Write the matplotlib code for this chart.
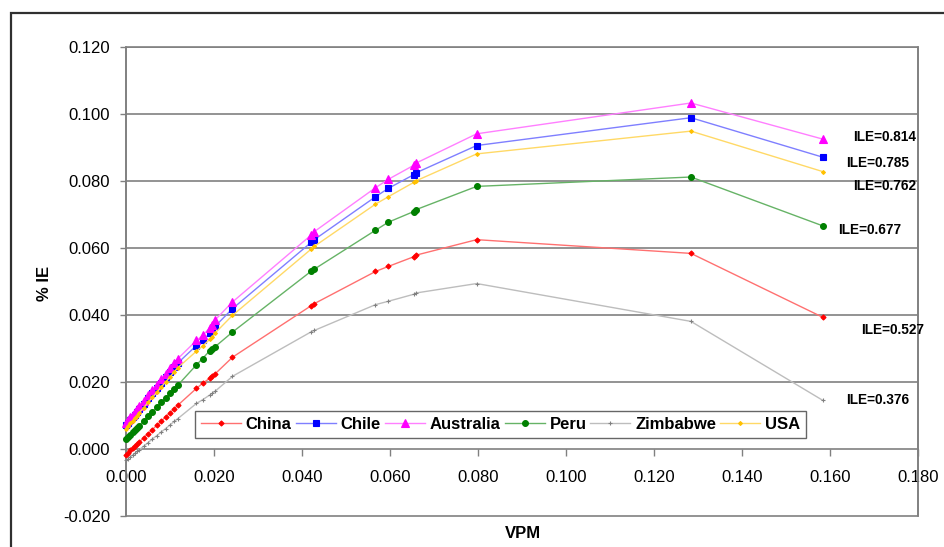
import matplotlib
matplotlib.use("Agg")
import matplotlib.pyplot as plt
from matplotlib.patches import Rectangle

plt.rcParams['font.family'] = ['Liberation Sans', 'DejaVu Sans']

# ---- data ----
vpm = [0.0000, 0.0005, 0.0010, 0.0015, 0.0020, 0.0025, 0.0030, 0.0040, 0.0050,
       0.0060, 0.0070, 0.0080, 0.0090, 0.0100, 0.0110, 0.0118, 0.0160, 0.0174,
       0.0190, 0.0196, 0.0203, 0.0242, 0.0421, 0.0428, 0.0567, 0.0596, 0.0654,
       0.0660, 0.0797, 0.1284, 0.1584]

china = [-0.0018, -0.0012, -0.0005, 0.0001, 0.0007, 0.0013, 0.0020, 0.0032, 0.0045,
         0.0057, 0.0070, 0.0082, 0.0095, 0.0107, 0.0120, 0.0130, 0.0180, 0.0195,
         0.0210, 0.0216, 0.0224, 0.0273, 0.0427, 0.0433, 0.0529, 0.0544, 0.0573,
         0.0578, 0.0624, 0.0583, 0.0392]

chile = [0.0070, 0.0078, 0.0086, 0.0094, 0.0102, 0.0110, 0.0118, 0.0134, 0.0150,
         0.0166, 0.0181, 0.0197, 0.0213, 0.0228, 0.0244, 0.0256, 0.0308, 0.0323,
         0.0344, 0.0353, 0.0366, 0.0418, 0.0616, 0.0624, 0.0752, 0.0777, 0.0818,
         0.0824, 0.0905, 0.0988, 0.0870]

australia = [0.0078, 0.0086, 0.0094, 0.0102, 0.0110, 0.0118, 0.0127, 0.0143, 0.0159,
             0.0175, 0.0191, 0.0207, 0.0223, 0.0240, 0.0256, 0.0269, 0.0323, 0.0338,
             0.0360, 0.0370, 0.0385, 0.0438, 0.0638, 0.0648, 0.0779, 0.0804, 0.0846,
             0.0853, 0.0940, 0.1032, 0.0924]

peru = [0.0028, 0.0035, 0.0042, 0.0049, 0.0056, 0.0063, 0.0069, 0.0083, 0.0097,
        0.0110, 0.0124, 0.0138, 0.0151, 0.0165, 0.0179, 0.0190, 0.0250, 0.0269,
        0.0292, 0.0298, 0.0305, 0.0348, 0.0530, 0.0536, 0.0652, 0.0676, 0.0708,
        0.0714, 0.0783, 0.0811, 0.0665]

zimbabwe = [-0.0035, -0.0030, -0.0024, -0.0019, -0.0014, -0.0008, -0.0003, 0.0007, 0.0018,
            0.0029, 0.0039, 0.0050, 0.0060, 0.0071, 0.0082, 0.0090, 0.0135, 0.0146,
            0.0160, 0.0165, 0.0172, 0.0216, 0.0349, 0.0353, 0.0430, 0.0440, 0.0461,
            0.0465, 0.0493, 0.0380, 0.0144]

usa = [0.0060, 0.0068, 0.0076, 0.0083, 0.0091, 0.0099, 0.0107, 0.0122, 0.0138,
       0.0153, 0.0168, 0.0184, 0.0199, 0.0214, 0.0230, 0.0242, 0.0291, 0.0306,
       0.0326, 0.0334, 0.0346, 0.0398, 0.0596, 0.0604, 0.0730, 0.0752, 0.0795,
       0.0800, 0.0880, 0.0948, 0.0827]

series_names = ["China", "Chile", "Australia", "Peru", "Zimbabwe", "USA"]
ile_labels = ["ILE=0.814", "ILE=0.785", "ILE=0.762", "ILE=0.677", "ILE=0.527", "ILE=0.376"]
x_ticks = [0.000, 0.020, 0.040, 0.060, 0.080, 0.100, 0.120, 0.140, 0.160, 0.180]
y_ticks = [-0.020, 0.000, 0.020, 0.040, 0.060, 0.080, 0.100, 0.120]

# ---- styles ----
styles = {
    "China":     dict(color="#FF7070", marker="D", mfc="#FF0000", mec="#FF0000", ms=2.6),
    "Chile":     dict(color="#7F7FFF", marker="s", mfc="#0000FF", mec="#0000FF", ms=4.8),
    "Australia": dict(color="#FF7FFF", marker="^", mfc="#FF00FF", mec="#FF00FF", ms=5.6),
    "Peru":      dict(color="#66B366", marker="o", mfc="#008000", mec="#008000", ms=4.2),
    "Zimbabwe":  dict(color="#BDBDBD", marker="+", mfc="#808080", mec="#808080", ms=2.5),
    "USA":       dict(color="#FFD966", marker="D", mfc="#FFC000", mec="#FFC000", ms=2.0),
}
data = {"China": china, "Chile": chile, "Australia": australia,
        "Peru": peru, "Zimbabwe": zimbabwe, "USA": usa}

fig = plt.figure(figsize=(9.44, 5.47), dpi=100)
ax = fig.add_axes([126/944, 1-515.7/547, (918-126)/944, (515.7-46.7)/547])

for name in series_names:
    st = styles[name]
    ax.plot(vpm, data[name], color=st["color"], lw=1.0, marker=st["marker"],
            markersize=st["ms"], markerfacecolor=st["mfc"], markeredgecolor=st["mec"],
            markeredgewidth=0.8, label=name, clip_on=False, zorder=3)

ax.set_xlim(0, 0.18)
ax.set_ylim(-0.02, 0.12)
ax.set_xticks(x_ticks)
ax.set_yticks(y_ticks)
ax.set_xticklabels([f"{v:.3f}" for v in x_ticks])
ax.set_yticklabels([f"{v:.3f}" for v in y_ticks])

# grid lines
for v in y_ticks:
    if v > 0:
        ax.axhline(v, color="#808080", lw=1.2, zorder=1)

for s in ["top", "right", "left"]:
    ax.spines[s].set_color("#808080")
    ax.spines[s].set_linewidth(1.2)
ax.spines["top"].set_visible(False)
ax.spines["bottom"].set_position(("data", 0))
ax.spines["bottom"].set_color("#808080")
ax.spines["bottom"].set_linewidth(1.2)
ax.add_patch(Rectangle((0, 0), 1, 1, transform=ax.transAxes, fill=False,
                       edgecolor="#808080", lw=1.2, zorder=0.5, clip_on=False))

ax.tick_params(axis="y", direction="out", length=4.5, width=1, color="#808080",
               pad=7, labelsize=12)
ax.tick_params(axis="x", direction="out", length=5, width=1, color="#808080",
               pad=10, labelsize=12)

ax.text(-0.1023, 0.496, "% IE", transform=ax.transAxes, rotation=90, ha="center",
        va="center", fontsize=12, fontweight="bold")
ax.text(0.501, -0.0369, "VPM", transform=ax.transAxes, ha="center", va="center",
        fontsize=12, fontweight="bold")

# ILE annotations (data coordinates)
ile_pos = [(0.1652, 0.0930), (0.1636, 0.0852), (0.1652, 0.0784),
           (0.1618, 0.0653), (0.1670, 0.0354), (0.1636, 0.0146)]
for lab, (xx, yy) in zip(ile_labels, ile_pos):
    ax.text(xx, yy, lab, ha="left", va="center", fontsize=9.8, fontweight="bold",
            clip_on=False)

leg = ax.legend(loc="lower left", bbox_to_anchor=(0.087, 0.166, 0.772, 0.074),
                mode="expand", ncol=6, frameon=True, fancybox=False, shadow=False,
                prop={"weight": "bold", "size": 12}, handlelength=2.4,
                handletextpad=0.3, columnspacing=0.5, borderaxespad=0, borderpad=0.35)
leg.get_frame().set_edgecolor("#404040")
leg.get_frame().set_linewidth(1.0)
leg.set_zorder(5)

# outer chart border
fig.add_artist(Rectangle((11/944, -0.05), 1.0, 1 - 13/547 + 0.05,
                         transform=fig.transFigure, fill=False,
                         edgecolor="#303030", lw=1.6, clip_on=False))

fig.savefig("out.png", dpi=100)
